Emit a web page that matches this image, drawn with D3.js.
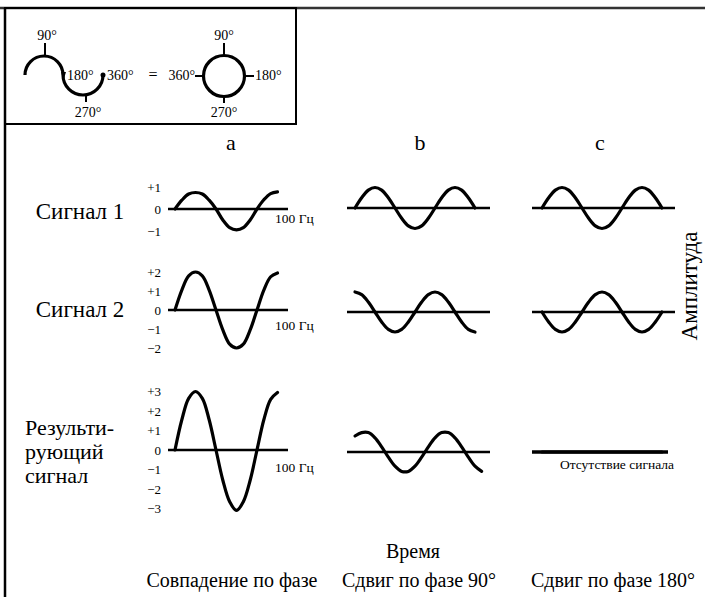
<!DOCTYPE html>
<html>
<head>
<meta charset="utf-8">
<script src="https://cdn.jsdelivr.net/npm/d3@7"></script>
<style>
  body { margin: 0; background: #fff; }
  text { font-family: "Liberation Serif", "DejaVu Serif", serif; fill: #000; }
</style>
</head>
<body>
<svg></svg>
<script>
// Chart size
var width = 705;
var height = 597;

// Labels
var columns = ["a", "b", "c"];
var columnNotes = ["Совпадение по фазе", "Сдвиг по фазе 90°", "Сдвиг по фазе 180°"];
var rowNames = [["Сигнал 1"], ["Сигнал 2"], ["Результи-", "рующий", "сигнал"]];
var tickValues = [[1, 0, -1], [2, 1, 0, -1, -2], [3, 2, 1, 0, -1, -2, -3]];
var insetDegrees = [90, 180, 270, 360];

// Phase samples (degrees)
var phaseA = [0, 30, 60, 90, 120, 150, 180, 210, 240, 270, 300, 330, 360, 390, 420, 450];
var phaseBC = [0, 30, 60, 90, 120, 150, 180, 210, 240, 270, 300, 330, 360, 390, 420, 450, 480, 510, 540];
var phaseB3 = [0, 30, 60, 90, 120, 150, 180, 210, 240, 270, 300, 330, 360, 390, 420, 450, 480, 510, 540, 570];

// Amplitudes
var a1 = [0, 0.4, 0.68, 0.75, 0.68, 0.4, 0, -0.5, -0.85, -0.95, -0.85, -0.5, 0, 0.42, 0.7, 0.78];
var a2 = [0, 1.05, 1.8, 2, 1.8, 1.05, 0, -1.05, -1.8, -2, -1.8, -1.05, 0, 1.05, 1.75, 1.95];
var a3 = [0, 1.55, 2.65, 3, 2.65, 1.55, 0, -1.55, -2.65, -3.1, -2.65, -1.55, 0, 1.55, 2.6, 2.95];
var b1 = [0, 0.5, 0.87, 1, 0.87, 0.5, 0, -0.5, -0.87, -1, -0.87, -0.5, 0, 0.5, 0.87, 1, 0.87, 0.5, 0];
var b2 = [1, 0.87, 0.5, 0, -0.5, -0.87, -1, -0.87, -0.5, 0, 0.5, 0.87, 1, 0.87, 0.5, 0, -0.5, -0.87, -1];
var b3 = [0.8, 0.97, 0.97, 0.71, 0.26, -0.26, -0.71, -0.97, -0.97, -0.71, -0.26, 0.26, 0.71, 0.97, 0.97, 0.71, 0.26, -0.26, -0.71, -0.97];
var c1 = [0, 0.5, 0.87, 1, 0.87, 0.5, 0, -0.5, -0.87, -1, -0.87, -0.5, 0, 0.5, 0.87, 1, 0.87, 0.5, 0];
var c2 = [0, -0.5, -0.87, -1, -0.87, -0.5, 0, 0.5, 0.87, 1, 0.87, 0.5, 0, -0.5, -0.87, -1, -0.87, -0.5, 0];
var c3 = [0, 0, 0, 0, 0, 0, 0, 0, 0, 0, 0, 0, 0, 0, 0, 0, 0, 0, 0];

// Layout
var colLayout = [
  { domain: [0, 450], range: [175, 277.5], axis: [168, 288], center: 231, rowY: [209, 310, 450], unit: [22, 19, 19.5] },
  { domain: [0, 540], range: [355, 475], axis: [347, 490], center: 420, rowY: [208, 312, 452], unit: [20.5, 20, 20] },
  { domain: [0, 540], range: [542, 662], axis: [532, 675], center: 600, rowY: [208, 312, 452], unit: [20.5, 20, 20] }
];

var panels = [
  { col: 0, row: 0, phase: phaseA, values: a1 },
  { col: 0, row: 1, phase: phaseA, values: a2 },
  { col: 0, row: 2, phase: phaseA, values: a3 },
  { col: 1, row: 0, phase: phaseBC, values: b1 },
  { col: 1, row: 1, phase: phaseBC, values: b2 },
  { col: 1, row: 2, phase: phaseB3, values: b3 },
  { col: 2, row: 0, phase: phaseBC, values: c1 },
  { col: 2, row: 1, phase: phaseBC, values: c2 },
  { col: 2, row: 2, phase: phaseBC, values: c3 }
];

var svg = d3.select("svg")
  .attr("width", width)
  .attr("height", height);

// Frame lines
svg.append("line").attr("x1", 0).attr("x2", width).attr("y1", 8).attr("y2", 8)
  .attr("stroke", "#333").attr("stroke-width", 2.5);
svg.append("line").attr("x1", 5).attr("x2", 5).attr("y1", 8).attr("y2", height)
  .attr("stroke", "#000").attr("stroke-width", 2.5);

// Inset box
var inset = svg.append("g");
inset.append("rect").attr("x", 5).attr("y", 8).attr("width", 291).attr("height", 116)
  .attr("fill", "none").attr("stroke", "#000").attr("stroke-width", 2);

function degLabel(d) { return d + "°"; }

// left: half-turn drawing
var p = d3.path();
p.moveTo(25, 75);
p.arc(44, 75, 19, Math.PI, 2 * Math.PI, false);
p.arc(83, 75, 20, Math.PI, 0, true);
inset.append("path").attr("d", p.toString()).attr("fill", "none")
  .attr("stroke", "#000").attr("stroke-width", 3.2);
inset.append("circle").attr("cx", 103).attr("cy", 75).attr("r", 2.5);
inset.append("line").attr("x1", 45).attr("x2", 45).attr("y1", 43).attr("y2", 56)
  .attr("stroke", "#000").attr("stroke-width", 2);
inset.append("line").attr("x1", 86).attr("x2", 86).attr("y1", 95).attr("y2", 102)
  .attr("stroke", "#000").attr("stroke-width", 2);
inset.append("path").attr("d", "M61,72 L66,72 L63.5,80 Z");

var leftPos = [
  { x: 47, y: 40, a: "middle" },
  { x: 67, y: 80, a: "start" },
  { x: 88, y: 117, a: "middle" },
  { x: 107, y: 80, a: "start" }
];
inset.selectAll(".ldeg").data(insetDegrees).enter().append("text")
  .attr("class", "ldeg")
  .attr("x", function(d, i) { return leftPos[i].x; })
  .attr("y", function(d, i) { return leftPos[i].y; })
  .attr("text-anchor", function(d, i) { return leftPos[i].a; })
  .attr("font-size", 14)
  .text(degLabel);

inset.append("text").attr("x", 153).attr("y", 80).attr("text-anchor", "middle")
  .attr("font-size", 16).text("=");

// right: full circle
inset.append("circle").attr("cx", 224).attr("cy", 76).attr("r", 20.5)
  .attr("fill", "none").attr("stroke", "#000").attr("stroke-width", 3.2);
var rightTicks = [[224, 43, 224, 56], [245, 76, 254, 76], [224, 96, 224, 103], [195, 76, 204, 76]];
inset.selectAll(".rtick").data(rightTicks).enter().append("line")
  .attr("x1", function(d) { return d[0]; }).attr("y1", function(d) { return d[1]; })
  .attr("x2", function(d) { return d[2]; }).attr("y2", function(d) { return d[3]; })
  .attr("stroke", "#000").attr("stroke-width", 2);
var rightPos = [
  { x: 224, y: 40, a: "middle" },
  { x: 255, y: 80, a: "start" },
  { x: 224, y: 117, a: "middle" },
  { x: 195, y: 80, a: "end" }
];
inset.selectAll(".rdeg").data(insetDegrees).enter().append("text")
  .attr("class", "rdeg")
  .attr("x", function(d, i) { return rightPos[i].x; })
  .attr("y", function(d, i) { return rightPos[i].y; })
  .attr("text-anchor", function(d, i) { return rightPos[i].a; })
  .attr("font-size", 14)
  .text(degLabel);

// Column headers and notes
svg.selectAll(".colhead").data(columns).enter().append("text")
  .attr("x", function(d, i) { return colLayout[i].center; })
  .attr("y", 150)
  .attr("text-anchor", "middle")
  .attr("font-size", 22)
  .text(function(d) { return d; });

svg.selectAll(".colnote").data(columnNotes).enter().append("text")
  .attr("x", function(d, i) { return [232, 419, 613][i]; })
  .attr("y", 587)
  .attr("text-anchor", "middle")
  .attr("font-size", 20)
  .text(function(d) { return d; });

svg.append("text").attr("x", 413).attr("y", 558).attr("text-anchor", "middle")
  .attr("font-size", 20).text("Время");

svg.append("text").attr("transform", "translate(697,286) rotate(-90)")
  .attr("text-anchor", "middle").attr("font-size", 23).text("Амплитуда");

// Row names
svg.append("text").attr("x", 80).attr("y", 219).attr("text-anchor", "middle")
  .attr("font-size", 23).text(rowNames[0][0]);
svg.append("text").attr("x", 80).attr("y", 317).attr("text-anchor", "middle")
  .attr("font-size", 23).text(rowNames[1][0]);
svg.append("text").attr("x", 25).attr("y", 435).attr("font-size", 22)
  .selectAll("tspan").data(rowNames[2]).enter().append("tspan")
  .attr("x", 25).attr("dy", function(d, i) { return i ? 24 : 0; })
  .text(function(d) { return d; });

// Panels
var fmt = function(d) { return d > 0 ? "+" + d : d < 0 ? "\u2212" + (-d) : "0"; };

panels.forEach(function(pn) {
  var L = colLayout[pn.col];
  var y0 = L.rowY[pn.row];
  var u = L.unit[pn.row];
  var x = d3.scaleLinear().domain(L.domain).range(L.range);
  var y = d3.scaleLinear().domain([-1, 1]).range([y0 + u, y0 - u]);
  var g = svg.append("g");
  var empty = pn.col === 2 && pn.row === 2;

  // zero line
  g.append("line")
    .attr("x1", L.axis[0]).attr("x2", empty ? 668 : L.axis[1])
    .attr("y1", y(0)).attr("y2", y(0))
    .attr("stroke", "#000").attr("stroke-width", empty ? 3.5 : 2.5);

  var line = d3.line()
    .x(function(d, i) { return x(pn.phase[i]); })
    .y(function(d) { return y(d); })
    .curve(d3.curveCatmullRom);
  g.append("path").datum(pn.values)
    .attr("d", line)
    .attr("fill", "none").attr("stroke", "#000").attr("stroke-width", 3.2)
    .attr("stroke-linecap", "round");

  if (pn.col === 0) {
    var yAxis = d3.axisLeft(y).tickValues(tickValues[pn.row]).tickFormat(fmt).tickSize(0).tickPadding(0);
    var ax = g.append("g").attr("transform", "translate(161,0)").call(yAxis);
    ax.select(".domain").remove();
    ax.selectAll("text").attr("font-size", 13).attr("fill", "#000");
    g.append("text").attr("x", 275).attr("y", y0 + [14, 20, 22][pn.row])
      .attr("font-size", 13.5).text("100 Гц");
  }
  if (empty) {
    g.append("text").attr("x", 617).attr("y", y0 + 17).attr("text-anchor", "middle")
      .attr("font-size", 13.5).text("Отсутствие сигнала");
  }
});
</script>
</body>
</html>
